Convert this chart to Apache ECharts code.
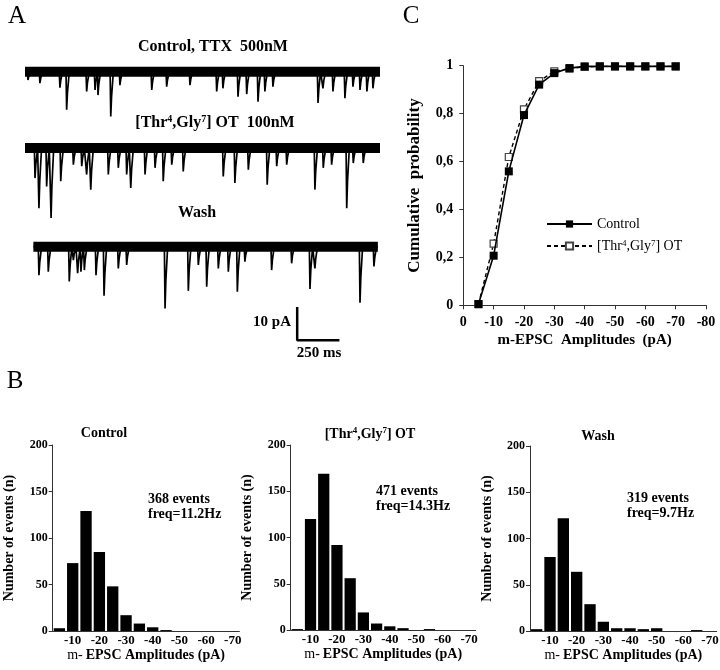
<!DOCTYPE html>
<html><head><meta charset="utf-8">
<script src="https://cdn.jsdelivr.net/npm/echarts@6/dist/echarts.min.js"></script>
<style>html,body{margin:0;padding:0;background:#fff}#c{width:720px;height:670px}</style>
</head><body><div id="c"></div>
<script>
// ---------- Panel A : m-EPSC traces (time in ms, current in pA) ----------
const ctrlSpan = [0, 2165];
const ctrlEventT = [18, 91, 213, 254, 376, 427, 445, 523, 579, 773, 864, 1006, 1169, 1207, 1299, 1352, 1421, 1463, 1512, 1787, 1817, 1878, 1951, 2000, 2043, 2085, 2122];
const ctrlEventA = [2.6, 3.6, 5.0, 11.9, 6.2, 5.7, 7.3, 14.0, 4.2, 5.7, 4.7, 4.2, 6.2, 5.2, 7.8, 7.0, 9.4, 6.2, 4.7, 9.8, 5.2, 6.2, 8.3, 4.7, 5.7, 6.2, 5.2];

const treatSpan = [0, 2165];
const treatEventT = [61, 85, 132, 159, 218, 295, 346, 376, 401, 508, 569, 620, 645, 732, 793, 843, 895, 965, 1209, 1280, 1362, 1477, 1535, 1596, 1768, 1819, 1870, 1962, 2002, 2063];
const treatEventA = [9.4, 18.8, 12.0, 21.9, 10.4, 5.2, 5.7, 8.3, 13.0, 8.3, 6.2, 8.3, 12.5, 8.3, 6.2, 10.4, 5.2, 7.3, 8.9, 10.9, 6.8, 11.5, 5.7, 5.2, 13.0, 6.2, 5.2, 18.8, 4.7, 4.7];

const washSpan = [51, 2152];
const washEventT = [85, 142, 270, 295, 321, 341, 362, 433, 482, 569, 620, 854, 996, 1057, 1108, 1179, 1240, 1295, 1341, 1504, 1626, 1738, 1768, 2043, 2128];
const washEventA = [8.9, 7.8, 10.9, 4.2, 8.3, 7.8, 7.3, 8.9, 15.3, 6.8, 5.7, 19.3, 13.8, 5.7, 12.5, 6.8, 7.8, 14.1, 4.7, 7.3, 5.2, 13.2, 6.8, 17.5, 6.2];

// scale bar (10 pA / 250 ms)
const scaleBarPA = 10;
const scaleBarMs = 250;

// ---------- Panel B : amplitude histograms ----------
const binLabels = ['-5', '-10', '-15', '-20', '-25', '-30', '-35', '-40', '-45', '-50', '-55', '-60', '-65', '-70'];
const histCtrl  = [3, 73, 129, 85, 48, 17, 8, 4, 1, 0, 0, 0, 0, 0];
const histTreat = [1, 120, 169, 92, 56, 19, 7, 4, 2, 0, 1, 0, 0, 0];
const histWash  = [2, 80, 122, 64, 29, 10, 3, 3, 2, 3, 0, 0, 1, 0];

// ---------- Panel C : cumulative probability ----------
const ampBins   = [-5, -10, -15, -20, -25, -30, -35, -40, -45, -50, -55, -60, -65, -70];
const cumCtrl   = [0.005, 0.207, 0.559, 0.794, 0.921, 0.969, 0.990, 0.997, 0.997, 0.997, 0.997, 0.997, 0.997, 0.997];
const cumTreat  = [0.005, 0.257, 0.619, 0.818, 0.936, 0.976, 0.988, 0.995, 0.997, 0.997, 0.997, 0.997, 0.997, 0.997];

// ======================================================================
const FONT = "'Liberation Serif','Times New Roman',serif";
const chart = echarts.init(document.getElementById('c'), null, {renderer: 'canvas'});

function traceLine(span, ts, as) {
  const pts = [[span[0], 0]];
  for (let i = 0; i < ts.length; i++) {
    const t = ts[i], a = as[i];
    pts.push([t - 4, 0], [t, -a], [t + 5, -a * 0.55], [t + 16, 0]);
  }
  pts.push([span[1], 0]);
  return pts;
}
function band(span) { return [[span[0], 0], [span[1], 0]]; }

const traceGrids = [
  {left: 25, top: 52.5, width: 355, height: 70.4},
  {left: 25, top: 128.8, width: 355, height: 96},
  {left: 25, top: 227.5, width: 355, height: 118.4}
];
const traceY = [[-16, 6], [-24, 6], [-31, 6]];

const grids = traceGrids.concat([
  {left: 463.3, top: 65.7, width: 242.7, height: 239.6},
  {left: 52.7, top: 445, width: 186.7, height: 186},
  {left: 290.7, top: 445, width: 185, height: 185},
  {left: 530, top: 446, width: 186.7, height: 185}
]).map(g => Object.assign({outerBoundsMode: 'none', containLabel: false}, g));

const xAxes = [], yAxes = [], series = [];
for (let i = 0; i < 3; i++) {
  xAxes.push({gridIndex: i, type: 'value', min: 0, max: 2165, show: false});
  yAxes.push({gridIndex: i, type: 'value', min: traceY[i][0], max: traceY[i][1], show: false});
}
const traces = [[ctrlSpan, ctrlEventT, ctrlEventA], [treatSpan, treatEventT, treatEventA], [washSpan, washEventT, washEventA]];
traces.forEach((tr, i) => {
  series.push({type: 'line', xAxisIndex: i, yAxisIndex: i, data: band(tr[0]), symbol: 'none', silent: true,
    lineStyle: {color: '#000', width: 10}, clip: false, animation: false});
  series.push({type: 'line', xAxisIndex: i, yAxisIndex: i, data: traceLine(tr[0], tr[1], tr[2]), symbol: 'none', silent: true,
    lineStyle: {color: '#000', width: 1.7}, clip: false, animation: false});
});
// scale bar in the wash trace coordinate system
const sbT = 1660, sbLow = -29.2;
series.push({type: 'line', xAxisIndex: 2, yAxisIndex: 2, symbol: 'none', clip: false, animation: false,
  data: [[sbT, sbLow + scaleBarPA], [sbT, sbLow], [sbT + scaleBarMs, sbLow]],
  lineStyle: {color: '#000', width: 2.5, cap: 'square'}});

// Panel C axes
const boldLbl = {fontFamily: FONT, fontWeight: 'bold', color: '#000'};
xAxes.push({gridIndex: 3, type: 'value', min: -80, max: 0, interval: 10, inverse: true,
  axisLine: {lineStyle: {color: '#333', width: 1}}, splitLine: {show: false},
  axisTick: {inside: false, length: 4, lineStyle: {color: '#333'}},
  axisLabel: Object.assign({fontSize: 14, margin: 10}, boldLbl),
  name: 'm-EPSC  Amplitudes  (pA)', nameLocation: 'middle', nameGap: 27,
  nameTextStyle: Object.assign({fontSize: 15}, boldLbl)});
yAxes.push({gridIndex: 3, type: 'value', min: 0, max: 1, interval: 0.2,
  axisLine: {show: true, lineStyle: {color: '#333', width: 1}}, splitLine: {show: false},
  axisTick: {show: true, inside: false, length: 4, lineStyle: {color: '#333'}},
  axisLabel: Object.assign({fontSize: 14, margin: 10, formatter: v => String(+v.toFixed(1)).replace('.', ',')}, boldLbl),
  name: 'Cumulative  probability', nameLocation: 'middle', nameGap: 40,
  nameTextStyle: Object.assign({fontSize: 17}, boldLbl)});
series.push({name: '[Thr4,Gly7] OT', type: 'line', xAxisIndex: 3, yAxisIndex: 3,
  data: ampBins.map((x, i) => [x, cumTreat[i]]), symbol: 'rect', symbolSize: 7,
  lineStyle: {color: '#000', width: 1.4, type: [4, 3]},
  itemStyle: {color: '#fff', borderColor: '#444', borderWidth: 1.2}, animation: false, z: 3});
series.push({name: 'Control', type: 'line', xAxisIndex: 3, yAxisIndex: 3,
  data: ampBins.map((x, i) => [x, cumCtrl[i]]), symbol: 'rect', symbolSize: 8,
  lineStyle: {color: '#000', width: 1.6},
  itemStyle: {color: '#000'}, animation: false, z: 4});

// Panel B histograms
const hists = [histCtrl, histTreat, histWash];
hists.forEach((h, k) => {
  const gi = 4 + k;
  xAxes.push({gridIndex: gi, type: 'category', data: binLabels, boundaryGap: true,
    axisLine: {lineStyle: {color: '#333', width: 1}},
    axisTick: {interval: 0, inside: false, length: 4, lineStyle: {color: '#333'}},
    axisLabel: Object.assign({fontSize: 13, margin: 3, interval: (i) => i % 2 === 1}, boldLbl),
    name: '{r|m-} {b|EPSC Amplitudes (pA)}', nameLocation: 'middle', nameGap: 5,
    nameTextStyle: {fontFamily: FONT, color: '#000', rich: {
      r: {fontFamily: FONT, fontSize: 14, fontWeight: 'normal', color: '#000'},
      b: {fontFamily: FONT, fontSize: 14, fontWeight: 'bold', color: '#000'}}}});
  yAxes.push({gridIndex: gi, type: 'value', min: 0, max: 200, interval: 50,
    axisLine: {show: true, lineStyle: {color: '#333', width: 1}}, splitLine: {show: false},
    axisTick: {show: true, inside: false, length: 4, lineStyle: {color: '#333'}},
    axisLabel: Object.assign({fontSize: 12, margin: 5}, boldLbl),
    name: 'Number of events (n)', nameLocation: 'middle', nameGap: 36,
    nameTextStyle: Object.assign({fontSize: 14}, boldLbl)});
  series.push({type: 'bar', xAxisIndex: 4 + k, yAxisIndex: 4 + k, data: h, barCategoryGap: '15%',
    itemStyle: {color: '#000'}, animation: false});
});

// free text
function txt(x, y, text, size, opts) {
  return Object.assign({type: 'text', x: x, y: y, silent: true,
    style: Object.assign({text: text, fontFamily: FONT, fontSize: size, fontWeight: 'bold', fill: '#000',
      align: 'center', verticalAlign: 'middle'}, opts || {})});
}
function rtxt(x, y, text, size, supSize) {
  return {type: 'text', x: x, y: y, silent: true, style: {text: text, align: 'center', verticalAlign: 'middle',
    rich: {
      n: {fontFamily: FONT, fontSize: size, fontWeight: 'bold', fill: '#000', color: '#000', lineHeight: size + 2},
      s: {fontFamily: FONT, fontSize: supSize, fontWeight: 'bold', fill: '#000', color: '#000', verticalAlign: 'top', lineHeight: size + 2}
    }}};
}
const graphic = [
  txt(17, 16, 'A', 25, {fontWeight: 'normal'}),
  txt(15, 381, 'B', 25, {fontWeight: 'normal'}),
  txt(411, 16, 'C', 25, {fontWeight: 'normal'}),
  txt(213, 47, 'Control, TTX  500nM', 16),
  rtxt(215, 123, '{n|[Thr}{s|4}{n|,Gly}{s|7}{n|] OT  100nM}', 16, 10),
  txt(197, 213, 'Wash', 16),
  txt(291, 322, '10 pA', 15, {align: 'right'}),
  txt(319, 353, '250 ms', 15),
  txt(104, 433, 'Control', 14),
  rtxt(370, 434, '{n|[Thr}{s|4}{n|,Gly}{s|7}{n|] OT}', 14, 9),
  txt(598, 436, 'Wash', 14),
  txt(148, 507, '368 events\nfreq=11.2Hz', 14, {align: 'left', lineHeight: 15}),
  txt(376, 499, '471 events\nfreq=14.3Hz', 14, {align: 'left', lineHeight: 15}),
  txt(627, 506, '319 events\nfreq=9.7Hz', 14, {align: 'left', lineHeight: 15})
];

chart.setOption({
  animation: false,
  backgroundColor: '#fff',
  textStyle: {fontFamily: FONT},
  grid: grids,
  xAxis: xAxes,
  yAxis: yAxes,
  series: series,
  legend: {
    data: ['Control', '[Thr4,Gly7] OT'], orient: 'vertical', left: 541, top: 212,
    itemWidth: 45, itemHeight: 9, itemGap: 8,
    textStyle: {fontFamily: FONT, fontSize: 14, color: '#000',
      rich: {n: {fontFamily: FONT, fontSize: 14, color: '#000'}, s: {fontFamily: FONT, fontSize: 9, color: '#000', verticalAlign: 'top', lineHeight: 14}}},
    formatter: name => name === 'Control' ? name : '{n|[Thr}{s|4}{n|,Gly}{s|7}{n|] OT}'
  },
  graphic: graphic
});
</script></body></html>
